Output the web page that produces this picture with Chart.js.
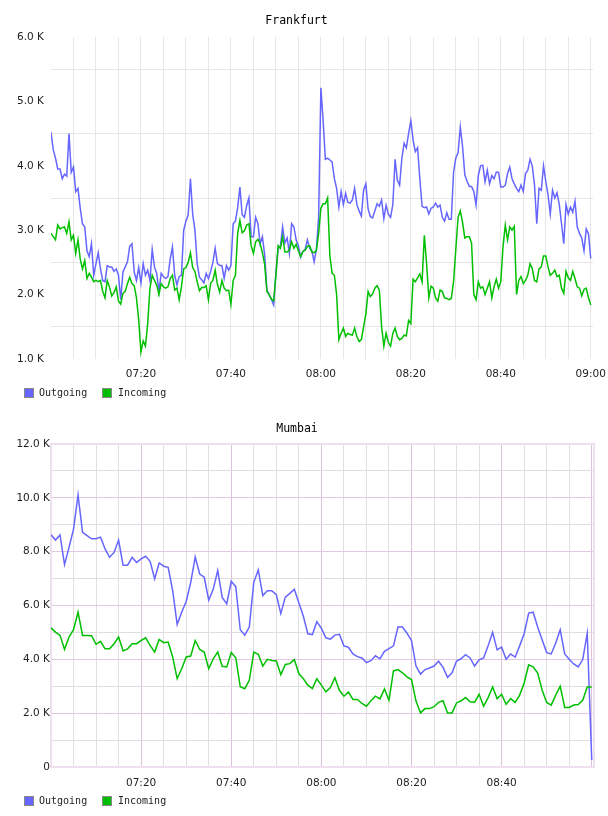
<!DOCTYPE html>
<html>
<head>
<meta charset="utf-8">
<title>Frankfurt / Mumbai traffic</title>
<script src="https://cdn.jsdelivr.net/npm/chart.js@4.4.1/dist/chart.umd.min.js"></script>
<style>
  body { margin: 0; background: #fff; width: 608px; height: 816px; position: relative; overflow: hidden; }
  canvas { position: absolute; left: 0; }
  .legend { position: absolute; left: 0; width: 608px; height: 12px; font: 10px "DejaVu Sans Mono", monospace; color: #222; }
  .legend .box { position: absolute; top: 0; width: 8px; height: 8px; border: 1px solid #888; }
  .legend .txt { position: absolute; top: -1px; line-height: 12px; white-space: nowrap; }
</style>
</head>
<body>
<canvas id="frankfurt" width="608" height="410" style="top:0"></canvas>
<canvas id="mumbai" width="608" height="406" style="top:410px"></canvas>

<script>
// series
const seriesNames = ['Outgoing', 'Incoming'];
const seriesColors = ['#6666ff', '#00bf00'];

// Frankfurt: a sample every 30 s starting 07:00 (minutes after midnight), values in K
const frankfurtStart = 420;
const frankfurtStep = 0.5;
const frankfurtOut = [
  4.52, 4.25, 4.12, 3.95, 3.95, 3.80, 3.87, 3.84, 4.50, 3.90,
  3.98, 3.60, 3.65, 3.34, 3.10, 3.05, 2.68, 2.59, 2.79, 2.30,
  2.48, 2.65, 2.40, 2.22, 2.20, 2.45, 2.43, 2.43, 2.36, 2.40,
  2.30, 1.92, 2.35, 2.43, 2.51, 2.75, 2.79, 2.35, 2.22, 2.42,
  2.18, 2.48, 2.30, 2.38, 2.22, 2.70, 2.43, 2.33, 2.05, 2.33,
  2.28, 2.25, 2.28, 2.55, 2.74, 2.30, 2.15, 2.28, 2.30, 3.00,
  3.14, 3.24, 3.80, 3.25, 3.00, 2.48, 2.27, 2.23, 2.18, 2.33,
  2.25, 2.36, 2.50, 2.72, 2.48, 2.45, 2.45, 2.25, 2.45, 2.38,
  2.45, 3.10, 3.14, 3.35, 3.67, 3.24, 3.20, 3.38, 3.50, 2.90,
  2.90, 3.20, 3.10, 2.79, 2.90, 2.62, 2.07, 2.00, 1.93, 1.84,
  2.33, 2.72, 2.75, 3.05, 2.80, 2.88, 2.64, 3.10, 3.05, 2.85,
  2.76, 2.58, 2.67, 2.70, 2.85, 2.72, 2.68, 2.51, 2.70, 3.20,
  5.21, 4.70, 4.10, 4.12, 4.09, 4.06, 3.80, 3.65, 3.36, 3.60,
  3.40, 3.57, 3.43, 3.42, 3.47, 3.65, 3.40, 3.30, 3.22, 3.62,
  3.72, 3.33, 3.21, 3.19, 3.30, 3.41, 3.37, 3.47, 3.18, 3.39,
  3.25, 3.20, 3.40, 4.10, 3.78, 3.70, 4.11, 4.35, 4.28, 4.50,
  4.70, 4.40, 4.22, 4.28, 3.80, 3.37, 3.35, 3.36, 3.25, 3.34,
  3.36, 3.42, 3.36, 3.39, 3.20, 3.14, 3.27, 3.17, 3.17, 3.90,
  4.12, 4.20, 4.60, 4.30, 3.86, 3.76, 3.68, 3.68, 3.60, 3.39,
  3.85, 4.00, 4.01, 3.75, 3.93, 3.72, 3.85, 3.80, 3.90, 3.90,
  3.67, 3.67, 3.70, 3.88, 3.98, 3.80, 3.72, 3.65, 3.60, 3.70,
  3.60, 3.88, 3.93, 4.10, 4.00, 3.70, 3.10, 3.65, 3.62, 4.00,
  3.76, 3.55, 3.25, 3.62, 3.50, 3.58, 3.40, 3.10, 2.79, 3.40,
  3.25, 3.36, 3.28, 3.45, 3.05, 2.95, 2.88, 2.68, 3.02, 2.94, 2.56
];
const frankfurtIn = [
  2.95, 2.90, 2.85, 3.08, 3.02, 3.04, 3.05, 2.95, 3.13, 2.85,
  2.92, 2.64, 2.85, 2.55, 2.40, 2.53, 2.25, 2.33, 2.27, 2.20,
  2.22, 2.20, 2.22, 2.05, 1.95, 2.22, 2.12, 1.98, 2.03, 2.12,
  1.90, 1.85, 2.02, 2.05, 2.17, 2.27, 2.17, 2.14, 1.95, 1.60,
  1.11, 1.28, 1.20, 1.55, 2.10, 2.30, 2.22, 2.15, 2.00, 2.17,
  2.12, 2.10, 2.12, 2.25, 2.30, 2.07, 2.10, 1.92, 2.12, 2.40,
  2.42, 2.50, 2.65, 2.42, 2.36, 2.20, 2.06, 2.11, 2.11, 2.14,
  1.92, 2.18, 2.22, 2.38, 2.16, 2.04, 2.22, 2.10, 2.06, 2.07,
  1.85, 2.22, 2.30, 2.95, 3.15, 2.96, 2.99, 3.08, 3.10, 2.76,
  2.64, 2.82, 2.86, 2.79, 2.65, 2.47, 2.05, 2.00, 1.93, 1.90,
  2.30, 2.76, 2.72, 2.90, 2.66, 2.66, 2.69, 2.82, 2.72, 2.78,
  2.68, 2.59, 2.67, 2.69, 2.75, 2.76, 2.66, 2.65, 2.69, 2.95,
  3.34, 3.41, 3.41, 3.50, 2.60, 2.33, 2.30, 2.00, 1.30, 1.40,
  1.48, 1.35, 1.40, 1.38, 1.37, 1.48, 1.35, 1.27, 1.30, 1.50,
  1.70, 2.05, 1.97, 2.01, 2.10, 2.14, 2.07, 1.50, 1.20, 1.40,
  1.26, 1.20, 1.40, 1.48, 1.35, 1.30, 1.32, 1.37, 1.36, 1.60,
  1.55, 2.24, 2.20, 2.26, 2.32, 2.20, 2.92, 2.48, 1.95, 2.13,
  2.10, 1.95, 1.90, 2.07, 2.05, 1.95, 1.94, 1.92, 1.94, 2.20,
  2.70, 3.20, 3.30, 3.12, 2.88, 2.90, 2.90, 2.80, 2.00, 1.92,
  2.20, 2.10, 2.12, 2.00, 2.10, 2.20, 1.95, 2.12, 2.24, 2.10,
  2.20, 2.75, 3.08, 2.85, 3.05, 3.00, 3.06, 2.00, 2.22, 2.28,
  2.17, 2.22, 2.30, 2.48, 2.40, 2.22, 2.20, 2.40, 2.43, 2.60,
  2.60, 2.43, 2.30, 2.33, 2.38, 2.28, 2.30, 2.10, 2.02, 2.36,
  2.26, 2.22, 2.36, 2.25, 2.12, 2.10, 1.98, 2.08, 2.10, 1.95, 1.84
];
const frankfurtTickLabels = ['07:20', '07:40', '08:00', '08:20', '08:40', '09:00'];

// Mumbai: a sample every minute starting 07:00, values in K
const mumbaiStart = 420;
const mumbaiStep = 1;
const mumbaiOut = [
  8.63, 8.43, 8.62, 7.52, 8.16, 8.84, 10.11, 8.72, 8.60, 8.48,
  8.48, 8.54, 8.10, 7.79, 7.97, 8.43, 7.50, 7.50, 7.79, 7.60,
  7.73, 7.83, 7.64, 6.99, 7.58, 7.46, 7.42, 6.55, 5.30, 5.75,
  6.15, 6.85, 7.80, 7.17, 7.05, 6.20, 6.60, 7.30, 6.30, 6.06,
  6.90, 6.70, 5.10, 4.90, 5.20, 6.86, 7.32, 6.37, 6.55, 6.55,
  6.40, 5.70, 6.31, 6.45, 6.60, 6.10, 5.60, 4.95, 4.92, 5.40,
  5.15, 4.80, 4.75, 4.90, 4.93, 4.50, 4.45, 4.20, 4.10, 4.05,
  3.88, 3.95, 4.13, 4.02, 4.30, 4.40, 4.50, 5.20, 5.20, 4.97,
  4.70, 3.75, 3.45, 3.62, 3.68, 3.75, 3.93, 3.70, 3.33, 3.50,
  3.94, 4.02, 4.17, 4.05, 3.75, 3.98, 4.05, 4.50, 5.00, 4.35,
  4.45, 4.00, 4.20, 4.08, 4.50, 4.95, 5.72, 5.75, 5.20, 4.72,
  4.25, 4.20, 4.60, 5.10, 4.20, 4.00, 3.83, 3.72, 3.99, 4.97, 0.26
];
const mumbaiIn = [
  5.17, 5.01, 4.89, 4.37, 4.83, 5.10, 5.75, 4.89, 4.89, 4.88,
  4.56, 4.67, 4.39, 4.39, 4.58, 4.83, 4.31, 4.39, 4.58, 4.58,
  4.70, 4.80, 4.52, 4.27, 4.74, 4.62, 4.64, 4.09, 3.28, 3.65,
  4.09, 4.12, 4.70, 4.37, 4.27, 3.65, 4.02, 4.27, 3.74, 3.72,
  4.25, 4.06, 2.98, 2.91, 3.22, 4.27, 4.19, 3.75, 4.00, 3.96,
  3.94, 3.43, 3.81, 3.84, 3.99, 3.47, 3.28, 3.04, 2.91, 3.28,
  3.04, 2.79, 2.95, 3.32, 2.85, 2.63, 2.79, 2.51, 2.51, 2.36,
  2.26, 2.46, 2.63, 2.53, 2.90, 2.48, 3.57, 3.62, 3.50, 3.35,
  3.25, 2.45, 2.01, 2.17, 2.17, 2.24, 2.40, 2.46, 2.01, 2.01,
  2.38, 2.46, 2.58, 2.42, 2.41, 2.70, 2.26, 2.58, 2.97, 2.54,
  2.70, 2.33, 2.54, 2.40, 2.67, 3.12, 3.80, 3.72, 3.49, 2.85,
  2.40, 2.30, 2.67, 3.00, 2.21, 2.21, 2.30, 2.32, 2.48, 2.97, 2.97
];
const mumbaiTickLabels = ['07:20', '07:40', '08:00', '08:20', '08:40'];

const axisMin = 420;     // 07:00
const axisMax = 540.5;   // just past 09:00

function toPoints(values, start, step) {
  return values.map((v, i) => ({ x: start + i * step, y: v }));
}

function hhmm(m) {
  const h = Math.floor(m / 60), mm = Math.round(m % 60);
  return String(h).padStart(2, '0') + ':' + String(mm).padStart(2, '0');
}

// light frame around the plot (Mumbai style)
const framePlugin = {
  id: 'frame',
  beforeDatasetsDraw(chart, args, opts) {
    if (!opts.color) return;
    const a = chart.chartArea, ctx = chart.ctx;
    ctx.save();
    ctx.strokeStyle = opts.color;
    ctx.lineWidth = 2;
    ctx.strokeRect(a.left, a.top, a.right - a.left, a.bottom - a.top);
    ctx.restore();
  }
};

function makeChart(id, cfg) {
  const datasets = [cfg.outData, cfg.inData].map((data, i) => ({
    label: seriesNames[i],
    data: data,
    borderColor: seriesColors[i],
    backgroundColor: seriesColors[i],
    borderWidth: 1.5,
    pointRadius: 0,
    tension: 0,
    order: 1 - i
  }));

  return new Chart(document.getElementById(id), {
    type: 'line',
    data: { datasets: datasets },
    plugins: [framePlugin],
    options: {
      responsive: false,
      animation: false,
      devicePixelRatio: 1,
      layout: { padding: { left: 0, right: cfg.padRight, top: 0, bottom: 0 } },
      plugins: {
        legend: { display: false },
        tooltip: { enabled: false },
        frame: { color: cfg.frameColor },
        title: {
          display: true,
          text: cfg.title,
          color: '#000',
          font: { family: 'DejaVu Sans Mono', size: 11.5, weight: 'normal' },
          padding: { top: cfg.titleTop, bottom: cfg.titleBottom }
        }
      },
      scales: {
        x: {
          type: 'linear',
          min: axisMin,
          max: axisMax,
          afterBuildTicks: axis => {
            const t = [];
            for (let m = 420; m <= 540; m += 5) t.push({ value: m });
            axis.ticks = t;
          },
          afterFit: s => {
            s.height = cfg.xHeight;
            // let the last label run off the edge, like the original
            s.paddingLeft = 0;
            s.paddingRight = 0;
          },
          border: { display: false },
          grid: { drawTicks: false, color: cfg.xGrid, lineWidth: 1 },
          ticks: {
            autoSkip: false,
            maxRotation: 0,
            padding: cfg.xPad,
            color: '#222',
            font: { family: 'DejaVu Sans', size: 10.5 },
            callback: v => cfg.tickLabels.includes(hhmm(v)) ? hhmm(v) : ''
          }
        },
        y: {
          min: cfg.yMin,
          max: cfg.yMax,
          afterBuildTicks: axis => {
            const t = [];
            for (let v = cfg.yMin; v <= cfg.yMax + 1e-9; v += cfg.yStep) t.push({ value: +v.toFixed(2) });
            axis.ticks = t;
          },
          afterFit: s => { s.width = 51; },
          border: { display: false },
          grid: { drawTicks: false, color: cfg.yGrid, lineWidth: 1 },
          ticks: {
            padding: cfg.yPad,
            color: '#222',
            font: { family: 'DejaVu Sans', size: 10.5 },
            callback: cfg.yLabel
          }
        }
      }
    }
  });
}

// Frankfurt
makeChart('frankfurt', {
  title: 'Frankfurt',
  outData: toPoints(frankfurtOut, frankfurtStart, frankfurtStep),
  inData: toPoints(frankfurtIn, frankfurtStart, frankfurtStep),
  tickLabels: frankfurtTickLabels,
  titleTop: 14.5, titleBottom: 8.7,
  xHeight: 51, xPad: 9, padRight: 15,
  yMin: 1, yMax: 6, yStep: 0.5, yPad: 7,
  yLabel: v => Number.isInteger(v) ? v.toFixed(1) + ' K' : '',
  xGrid: c => c.tick && c.tick.value === 420 ? 'rgba(0,0,0,0)' : '#e6e6e6',
  yGrid: c => c.tick && !Number.isInteger(c.tick.value) ? '#e6e6e6' : 'rgba(0,0,0,0)',
  frameColor: null
});

// Mumbai
makeChart('mumbai', {
  title: 'Mumbai',
  outData: toPoints(mumbaiOut, mumbaiStart, mumbaiStep),
  inData: toPoints(mumbaiIn, mumbaiStart, mumbaiStep),
  tickLabels: mumbaiTickLabels,
  titleTop: 12, titleBottom: 8.2,
  xHeight: 49, xPad: 10, padRight: 14,
  yMin: 0, yMax: 12, yStep: 1, yPad: 1,
  yLabel: v => v % 2 === 0 ? (v === 0 ? '0' : v.toFixed(1) + ' K') : '',
  xGrid: c => {
    const v = c.tick ? c.tick.value : 0;
    if (v === 420) return 'rgba(0,0,0,0)';
    return v % 20 === 0 ? '#dcc2dc' : '#e0e0e0';
  },
  yGrid: c => {
    const v = c.tick ? c.tick.value : 0;
    if (v === 0 || v === 12) return 'rgba(0,0,0,0)';
    return v % 2 === 0 ? '#e2c8e2' : '#dedede';
  },
  frameColor: '#efe0ef'
});

// legends below each chart
function addLegend(top) {
  const div = document.createElement('div');
  div.className = 'legend';
  div.style.top = top + 'px';
  seriesNames.forEach((name, i) => {
    const left = 24 + i * 78;
    const box = document.createElement('span');
    box.className = 'box';
    box.style.left = left + 'px';
    box.style.background = seriesColors[i];
    const txt = document.createElement('span');
    txt.className = 'txt';
    txt.style.left = (left + 15 + i) + 'px';
    txt.textContent = name;
    div.appendChild(box);
    div.appendChild(txt);
  });
  document.body.appendChild(div);
}
addLegend(388);
addLegend(796);
</script>
</body>
</html>
